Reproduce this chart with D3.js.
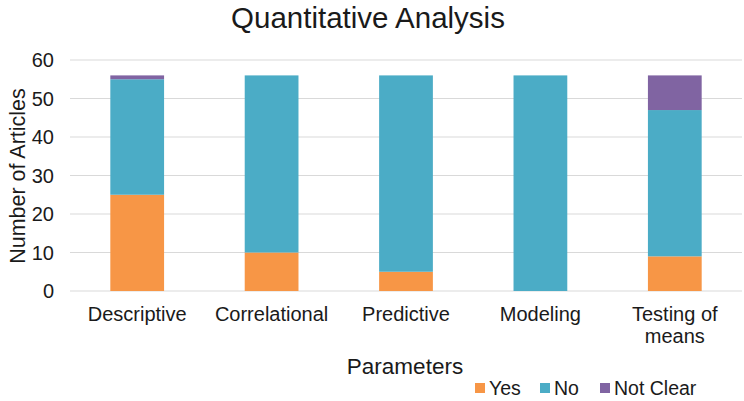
<!DOCTYPE html>
<html><head><meta charset="utf-8">
<script src="https://cdn.jsdelivr.net/npm/d3@7"></script>
<style>body{margin:0;background:#fff;} text{font-family:"Liberation Sans",Arial,sans-serif;}</style>
</head><body>
<svg id="c" width="744" height="401"></svg>
<script>
const categories = ["Descriptive","Correlational","Predictive","Modeling","Testing of means"];
const yes = [25,10,5,0,9];
const no = [30,46,51,56,38];
const notClear = [1,0,0,0,9];
const seriesNames = ["Yes","No","Not Clear"];
const colors = ["#F79646","#4BACC6","#8064A2"];
const yTicks = [0,10,20,30,40,50,60];

const data = categories.map((c,i)=>({cat:c, Yes:yes[i], No:no[i], "Not Clear":notClear[i]}));
const svg = d3.select("#c");
const pL=70, pR=742, pT=60, pB=291;
const x = d3.scaleBand().domain(categories).range([pL,pR]).paddingInner(0.6).paddingOuter(0.3);
const y = d3.scaleLinear().domain([0,60]).range([pB,pT]);

svg.append("g").selectAll("line").data(yTicks).join("line")
  .attr("x1",pL).attr("x2",pR).attr("y1",d=>y(d)).attr("y2",d=>y(d))
  .attr("stroke","#d9d9d9").attr("stroke-width",1.2);

svg.append("g").selectAll("text").data(yTicks).join("text")
  .attr("x",54).attr("y",d=>y(d)).attr("dy","0.36em").attr("text-anchor","end")
  .attr("font-size",20).attr("fill","#1a1a1a").text(d=>d);

const stack = d3.stack().keys(seriesNames)(data);
svg.append("g").selectAll("g").data(stack).join("g").attr("fill",(d,i)=>colors[i])
  .selectAll("rect").data(d=>d).join("rect")
  .attr("x",d=>x(d.data.cat)).attr("width",x.bandwidth())
  .attr("y",d=>y(d[1])).attr("height",d=>y(d[0])-y(d[1]));

const xl = svg.append("g").selectAll("text").data(categories).join("text")
  .attr("x",d=>x(d)+x.bandwidth()/2).attr("y",321).attr("text-anchor","middle")
  .attr("font-size",20).attr("fill","#1a1a1a");
xl.each(function(d){
  const t=d3.select(this);
  if(d==="Testing of means"){
    t.append("tspan").attr("x",x(d)+x.bandwidth()/2).text("Testing of");
    t.append("tspan").attr("x",x(d)+x.bandwidth()/2).attr("dy",22).text("means");
  } else t.text(d);
});

svg.append("text").attr("x",368).attr("y",27.5).attr("text-anchor","middle")
  .attr("font-size",29.5).attr("fill","#1a1a1a").text("Quantitative Analysis");
svg.append("text").attr("transform","translate(25,176) rotate(-90)").attr("text-anchor","middle")
  .attr("font-size",21.5).attr("fill","#1a1a1a").text("Number of Articles");
svg.append("text").attr("x",405).attr("y",374).attr("text-anchor","middle")
  .attr("font-size",22.5).attr("fill","#1a1a1a").text("Parameters");

const legX=[475,540,600];
const lg = svg.append("g").selectAll("g").data(seriesNames).join("g")
  .attr("transform",(d,i)=>`translate(${legX[i]},388)`);
lg.append("rect").attr("x",0).attr("y",-5).attr("width",10).attr("height",10).attr("fill",(d,i)=>colors[i]);
lg.append("text").attr("x",14).attr("y",7).attr("font-size",19.5).attr("fill","#1a1a1a").text(d=>d);
</script>
</body></html>
